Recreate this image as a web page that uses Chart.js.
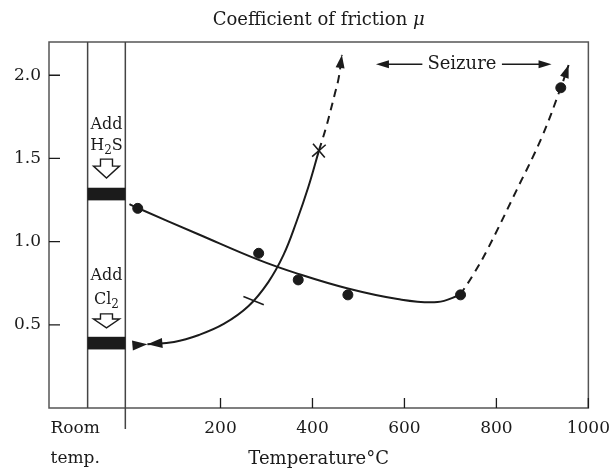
<!DOCTYPE html>
<html>
<head>
<meta charset="utf-8">
<script src="https://cdn.jsdelivr.net/npm/chart.js@4.4.1/dist/chart.umd.min.js"></script>
<style>
  html, body { margin: 0; padding: 0; background: #fff; }
</style>
</head>
<body>
<canvas id="chart" width="616" height="470"></canvas>
<script>
// measured friction coefficients
const measuredTemp = [20, 283, 369, 477, 722, 940];
const measuredMu = [1.20, 0.93, 0.77, 0.68, 0.68, 1.925];

// solid curve drawn through the points
const fitTemp = [2, 20, 153, 283, 369, 477, 585, 672, 721];
const fitMu = [1.226, 1.202, 1.043, 0.89, 0.806, 0.718, 0.655, 0.637, 0.679];

// dashed seizure branch
const seizeTemp = [721, 749, 780, 844, 898, 940, 957];
const seizeMu = [0.679, 0.799, 0.95, 1.31, 1.623, 1.925, 2.062];

// Cl2 curve, solid then dashed
const clTemp = [41, 99, 153, 207, 261, 304, 337, 365, 391, 414];
const clMu = [0.383, 0.397, 0.439, 0.505, 0.613, 0.757, 0.92, 1.118, 1.328, 1.547];
const clDashTemp = [414, 430, 448, 457, 464];
const clDashMu = [1.547, 1.691, 1.882, 1.984, 2.122];

// marks on the Cl2 curve
const tickMarkTemp = [272];
const tickMarkMu = [0.645];
const crossTemp = [414];
const crossMu = [1.547];

// room temperature band and gas bars
const roomBand = [-89, -7];
const h2sBar = [1.248, 1.324];
const clBar = [0.352, 0.428];

const tempTicks = [200, 400, 600, 800, 1000];
const muTicks = [0.5, 1.0, 1.5, 2.0];
const roomTempLabel = ['Room', 'temp.'];
const roomTempAt = -116;

const ink = '#1b1b1b';
const serif = "'DejaVu Serif', serif";

function pts(xs, ys) {
    return xs.map((x, i) => ({x: x, y: ys[i]}));
}

function arrowHead(ctx, tipX, tipY, fromX, fromY, len, half) {
    const a = Math.atan2(tipY - fromY, tipX - fromX);
    ctx.save();
    ctx.translate(tipX, tipY);
    ctx.rotate(a);
    ctx.beginPath();
    ctx.moveTo(0, 0);
    ctx.lineTo(-len, -half);
    ctx.lineTo(-len, half);
    ctx.closePath();
    ctx.fill();
    ctx.restore();
}

function hollowArrow(ctx, cx, top, tip) {
    const sh = top + (tip - top) * 0.37;
    ctx.beginPath();
    ctx.moveTo(cx - 6, top);
    ctx.lineTo(cx + 6, top);
    ctx.lineTo(cx + 6, sh);
    ctx.lineTo(cx + 13, sh);
    ctx.lineTo(cx, tip);
    ctx.lineTo(cx - 13, sh);
    ctx.lineTo(cx - 6, sh);
    ctx.closePath();
    ctx.fillStyle = '#fff';
    ctx.fill();
    ctx.lineWidth = 1.4;
    ctx.strokeStyle = ink;
    ctx.stroke();
}

// text with a lowered subscript part, centred on cx
function chem(ctx, main, sub, tail, cx, y) {
    const big = '16px ' + serif, small = '12px ' + serif;
    ctx.font = big;
    const w1 = ctx.measureText(main).width, w3 = ctx.measureText(tail).width;
    ctx.font = small;
    const w2 = ctx.measureText(sub).width;
    let x = cx - (w1 + w2 + w3) / 2;
    ctx.textAlign = 'left';
    ctx.font = big;
    ctx.fillText(main, x, y);
    ctx.font = small;
    ctx.fillText(sub, x + w1, y + 5);
    ctx.font = big;
    ctx.fillText(tail, x + w1 + w2, y);
    ctx.textAlign = 'center';
}

const decor = {
    id: 'decor',
    afterDatasetsDraw(chart) {
        const ctx = chart.ctx;
        const xs = chart.scales.x, ys = chart.scales.y;
        const a = chart.chartArea;
        ctx.save();
        ctx.strokeStyle = '#555';
        ctx.fillStyle = ink;

        // frame
        ctx.lineWidth = 1.5;
        ctx.strokeRect(a.left, a.top, a.right - a.left, a.bottom - a.top);

        // inward ticks
        ctx.strokeStyle = ink;
        ctx.lineWidth = 1.3;
        ctx.beginPath();
        muTicks.forEach(v => {
            const y = ys.getPixelForValue(v);
            ctx.moveTo(a.left, y);
            ctx.lineTo(a.left + 11, y);
        });
        tempTicks.forEach(v => {
            const x = xs.getPixelForValue(v);
            ctx.moveTo(x, a.bottom);
            ctx.lineTo(x, a.bottom - 10);
        });
        ctx.stroke();

        // room temperature band
        ctx.strokeStyle = '#444';
        ctx.lineWidth = 1.5;
        const b0 = xs.getPixelForValue(roomBand[0]);
        const b1 = xs.getPixelForValue(roomBand[1]);
        ctx.beginPath();
        ctx.moveTo(b0, a.top); ctx.lineTo(b0, a.bottom);
        ctx.moveTo(b1, a.top); ctx.lineTo(b1, a.bottom + 21);
        ctx.stroke();
        [h2sBar, clBar].forEach(bar => {
            const t = ys.getPixelForValue(bar[1]);
            const btm = ys.getPixelForValue(bar[0]);
            ctx.fillRect(b0, t, b1 - b0, btm - t);
        });

        const bc = (b0 + b1) / 2;
        ctx.fillStyle = ink;
        ctx.textAlign = 'center';
        ctx.textBaseline = 'middle';
        ctx.font = '16px ' + serif;
        ctx.fillText('Add', bc, ys.getPixelForValue(1.703));
        chem(ctx, 'H', '2', 'S', bc, ys.getPixelForValue(1.575));
        ctx.font = '16px ' + serif;
        ctx.fillText('Add', bc, ys.getPixelForValue(0.794));
        chem(ctx, 'Cl', '2', '', bc, ys.getPixelForValue(0.652));
        hollowArrow(ctx, bc, ys.getPixelForValue(1.496), ys.getPixelForValue(1.382));
        hollowArrow(ctx, bc, ys.getPixelForValue(0.566), ys.getPixelForValue(0.482));

        // arrow heads at curve ends
        ctx.fillStyle = ink;
        [2, 3].forEach(di => {
            const d = chart.getDatasetMeta(di).data;
            const p = d[d.length - 1], q = d[d.length - 2];
            arrowHead(ctx, p.x, p.y, q.x, q.y, 13, 4.5);
        });
        const cl = chart.getDatasetMeta(1).data;
        arrowHead(ctx, cl[0].x, cl[0].y, cl[1].x, cl[1].y, 15, 5);
        arrowHead(ctx, cl[0].x, cl[0].y, 2 * cl[0].x - cl[1].x, 2 * cl[0].y - cl[1].y, 15, 5);

        // seizure label
        const sy = ys.getPixelForValue(2.066);
        ctx.font = '18px ' + serif;
        ctx.fillText('Seizure', xs.getPixelForValue(725), sy);
        ctx.strokeStyle = ink;
        ctx.lineWidth = 1.4;
        ctx.beginPath();
        ctx.moveTo(xs.getPixelForValue(639), sy); ctx.lineTo(xs.getPixelForValue(550), sy);
        ctx.moveTo(xs.getPixelForValue(812), sy); ctx.lineTo(xs.getPixelForValue(905), sy);
        ctx.stroke();
        arrowHead(ctx, xs.getPixelForValue(538), sy, xs.getPixelForValue(600), sy, 13, 4);
        arrowHead(ctx, xs.getPixelForValue(920), sy, xs.getPixelForValue(850), sy, 13, 4);

        // title with italic mu
        const t1 = 'Coefficient of friction ';
        ctx.font = '18px ' + serif;
        const w1 = ctx.measureText(t1).width;
        ctx.font = 'italic 18px ' + serif;
        const w2 = ctx.measureText('\u03bc').width;
        const cx = (a.left + a.right) / 2;
        ctx.textAlign = 'left';
        ctx.textBaseline = 'alphabetic';
        ctx.font = '18px ' + serif;
        ctx.fillText(t1, cx - (w1 + w2) / 2, 25);
        ctx.font = 'italic 18px ' + serif;
        ctx.fillText('\u03bc', cx - (w1 + w2) / 2 + w1, 25);
        ctx.restore();
    }
};

const lineStyle = {
    type: 'line',
    borderColor: ink,
    borderWidth: 2,
    pointRadius: 0,
    fill: false,
    tension: 0.4
};

new Chart(document.getElementById('chart'), {
    type: 'scatter',
    data: {
        datasets: [
            Object.assign({label: 'fit', data: pts(fitTemp, fitMu)}, lineStyle),
            Object.assign({label: 'Cl2', data: pts(clTemp, clMu)}, lineStyle),
            Object.assign({label: 'seizure', data: pts(seizeTemp, seizeMu), borderDash: [8, 6]}, lineStyle),
            Object.assign({label: 'Cl2 dashed', data: pts(clDashTemp, clDashMu), borderDash: [8, 6]}, lineStyle),
            {
                label: 'measured',
                data: pts(measuredTemp, measuredMu),
                pointRadius: 5,
                backgroundColor: ink,
                borderColor: ink
            },
            {
                label: 'tick',
                data: pts(tickMarkTemp, tickMarkMu),
                pointStyle: 'line',
                rotation: 22,
                pointRadius: 11,
                borderWidth: 1.6,
                borderColor: ink
            },
            {
                label: 'cross',
                data: pts(crossTemp, crossMu),
                pointStyle: 'crossRot',
                rotation: 4,
                pointRadius: 9,
                borderWidth: 1.6,
                borderColor: ink
            }
        ]
    },
    options: {
        responsive: false,
        animation: false,
        events: [],
        layout: {padding: {top: 42, right: 24, bottom: 0, left: 0}},
        plugins: {legend: {display: false}, title: {display: false}, tooltip: {enabled: false}},
        scales: {
            x: {
                type: 'linear',
                min: -173,
                max: 1000,
                grid: {display: false, drawTicks: false},
                border: {display: false},
                afterBuildTicks: s => { s.ticks = [roomTempAt].concat(tempTicks).map(v => ({value: v})); },
                afterFit: s => { s.height = 62; },
                ticks: {
                    autoSkip: false,
                    maxRotation: 0,
                    padding: 6,
                    color: ink,
                    font: {family: serif, size: 17, lineHeight: 1.75},
                    callback: v => v === roomTempAt ? roomTempLabel : String(v)
                },
                title: {
                    display: true,
                    text: 'Temperature\u00b0C',
                    color: ink,
                    padding: 0,
                    font: {family: serif, size: 18}
                }
            },
            y: {
                min: 0,
                max: 2.2,
                grid: {display: false, drawTicks: false},
                border: {display: false},
                afterBuildTicks: s => { s.ticks = muTicks.map(v => ({value: v})); },
                afterFit: s => { s.width = 49; },
                ticks: {
                    padding: 8,
                    color: ink,
                    font: {family: serif, size: 17},
                    callback: v => v.toFixed(1)
                }
            }
        }
    },
    plugins: [decor]
});
</script>
</body>
</html>
